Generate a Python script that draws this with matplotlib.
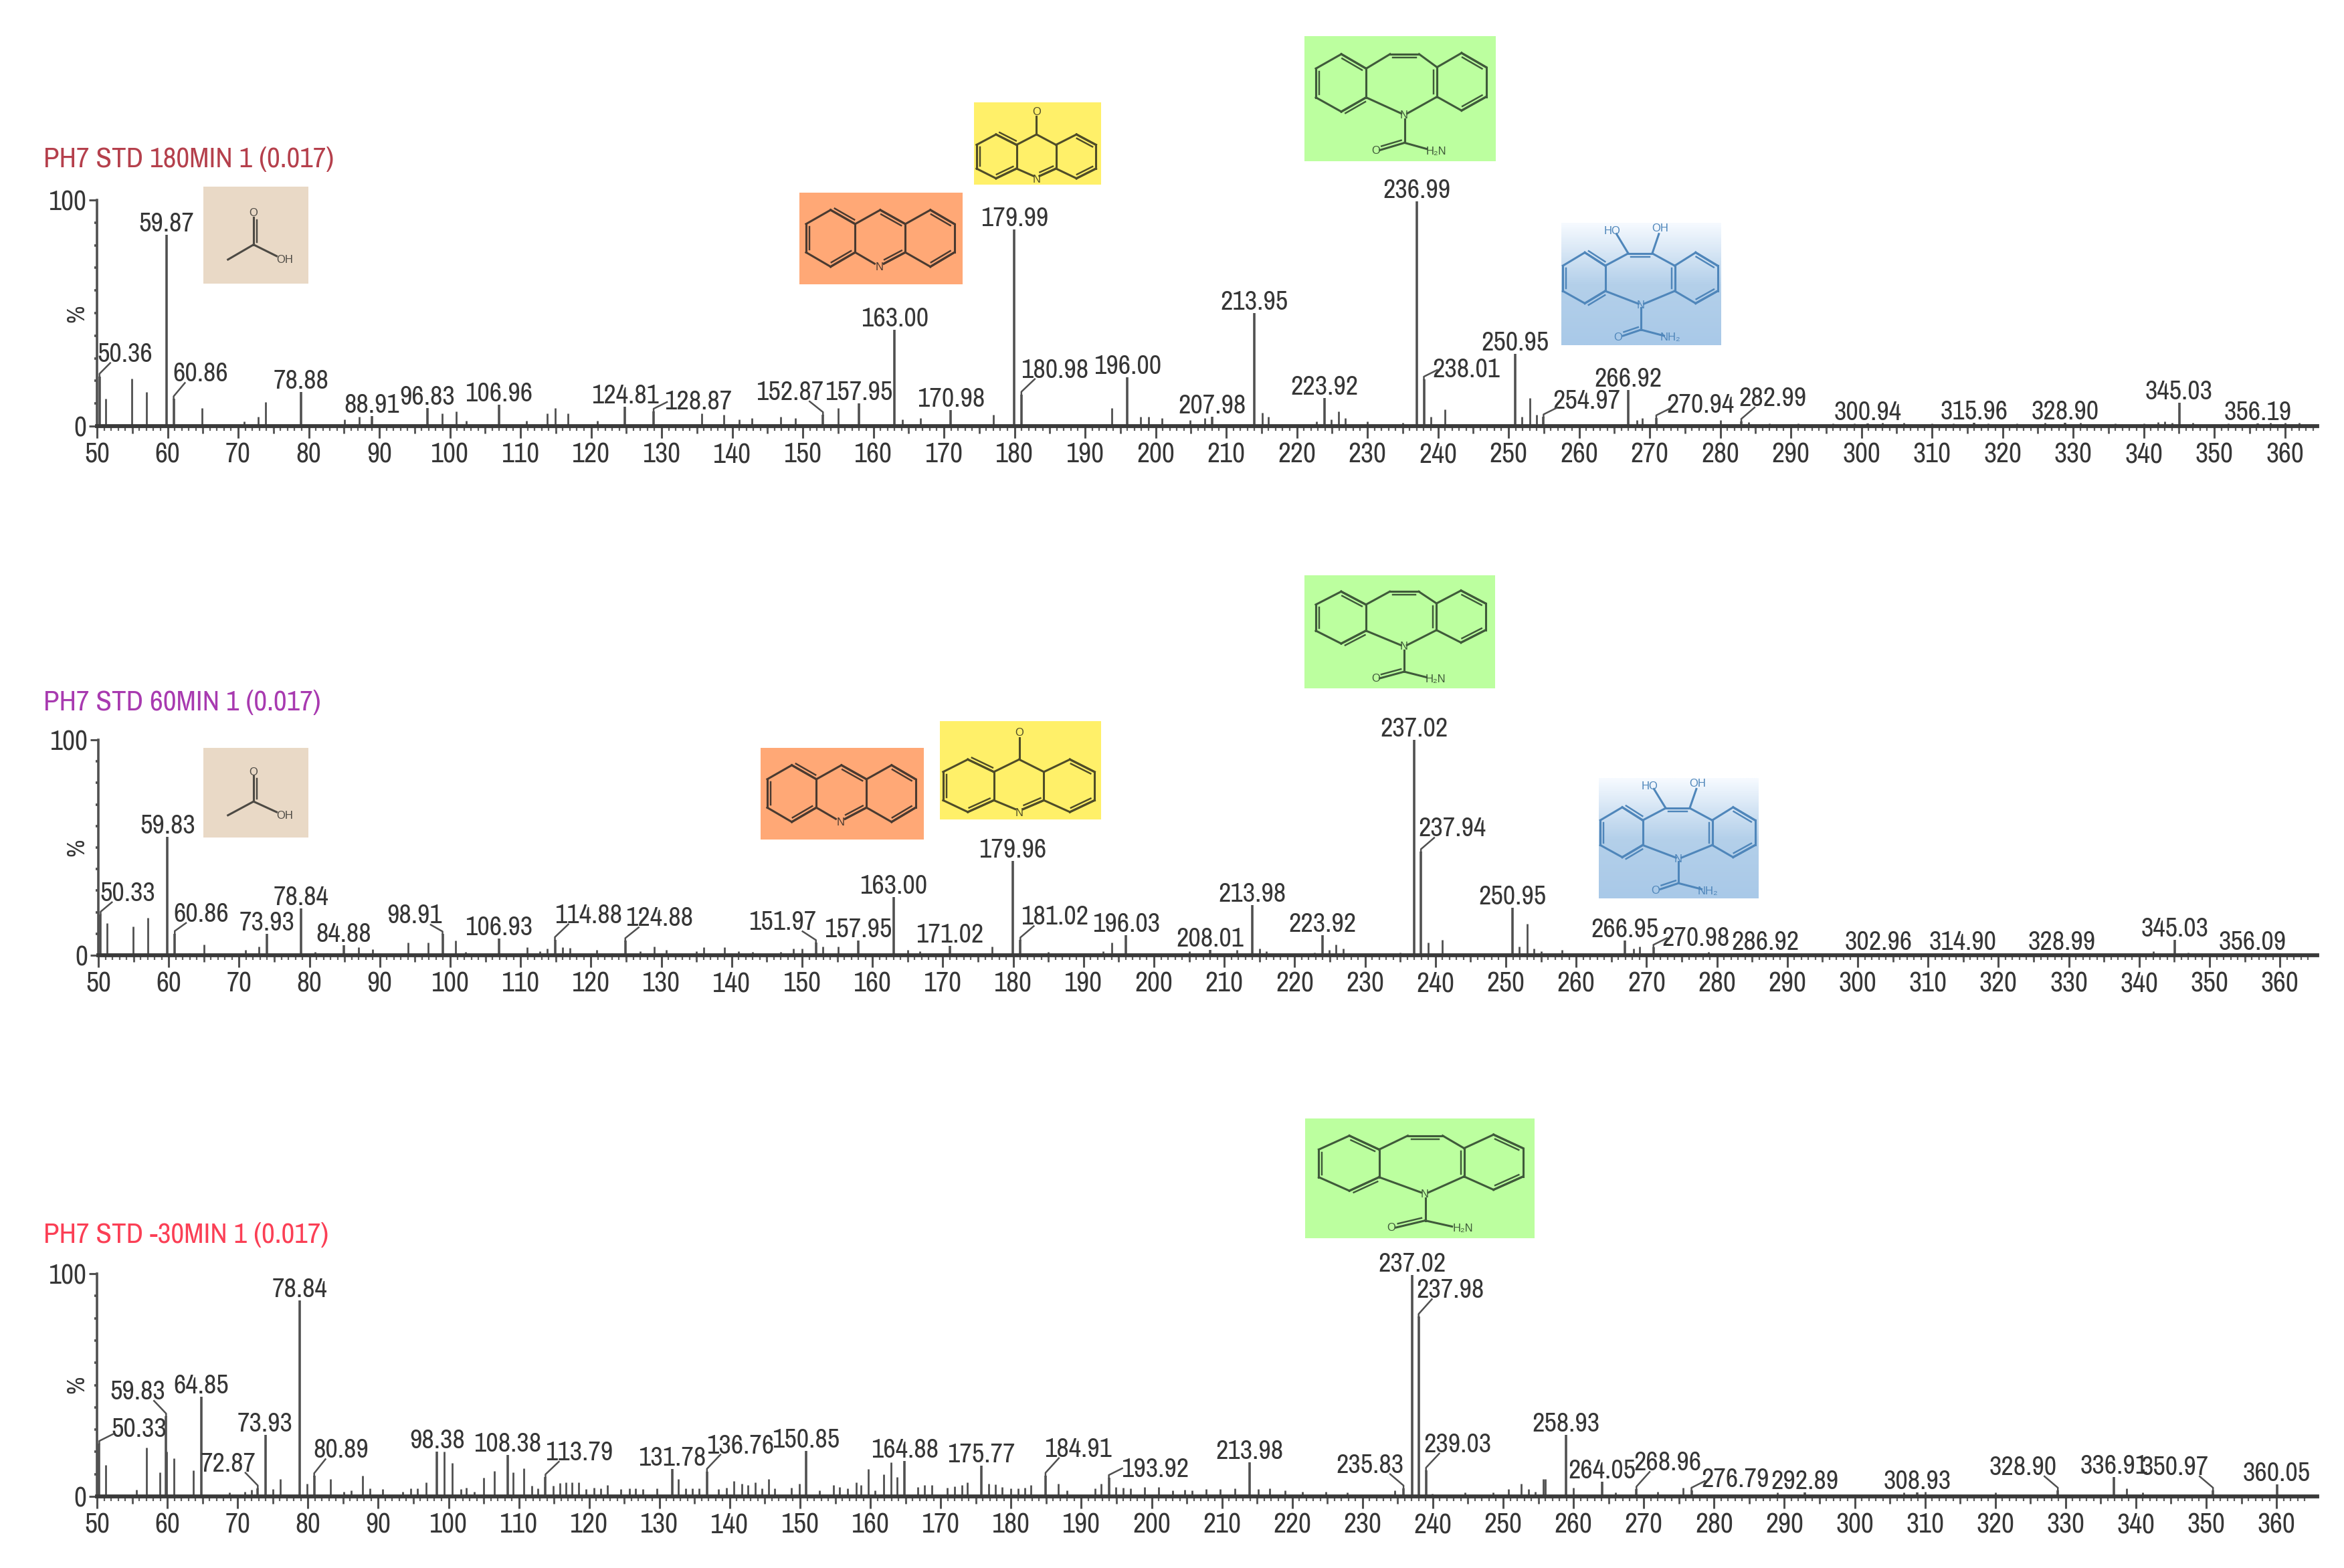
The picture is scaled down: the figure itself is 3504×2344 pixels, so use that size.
from matplotlib import pyplot as plt
from matplotlib.colors import LinearSegmentedColormap
from matplotlib.lines import Line2D
from matplotlib.transforms import IdentityTransform
import numpy as np

W, H = 3504, 2344
FONT = ['Archivo Narrow', 'Liberation Sans']
TEXT_COL = '#363636'
PEAK_COL = '#505050'

titles = ['PH7 STD 180MIN 1 (0.017)', 'PH7 STD 60MIN 1 (0.017)', 'PH7 STD -30MIN 1 (0.017)']
title_colors = ['#b5404c', '#a83ab0', '#fb3f55']
x_ticks = list(range(50, 361, 10))

# labelled peaks: m/z and relative intensity
lab_mz_180 = [50.36, 59.87, 60.86, 78.88, 88.91, 96.83, 106.96, 124.81, 128.87, 152.87, 157.95,
              163.00, 170.98, 179.99, 180.98, 196.00, 207.98, 213.95, 223.92, 236.99, 238.01,
              250.95, 254.97, 266.92, 270.94, 282.99, 300.94, 315.96, 328.90, 345.03, 356.19]
lab_int_180 = [22, 84.6, 12, 15, 4.5, 8, 9.5, 8.5, 6.5, 5, 10,
               42.5, 7, 87, 14, 21.7, 4, 50, 12.4, 99.4, 20.7,
               32, 4, 16, 3.6, 2, 1.2, 1.5, 1.5, 10.5, 1.2]
lab_mz_60 = [50.33, 59.83, 60.86, 73.93, 78.84, 84.88, 98.91, 106.93, 114.88, 124.88, 151.97,
             157.95, 163.00, 171.02, 179.96, 181.02, 196.03, 208.01, 213.98, 223.92, 237.02,
             237.94, 250.95, 266.95, 270.98, 286.92, 302.96, 314.90, 328.99, 345.03, 356.09]
lab_int_60 = [19, 55, 10, 10, 21.6, 4.6, 9.8, 7.7, 7.2, 6.7, 5.8,
              6.8, 27, 4.2, 43.7, 7, 9.4, 2.6, 23.4, 9.4, 100,
              48, 22, 6.7, 3.6, 1, 1, 1, 1, 7.2, 1]
lab_mz_30 = [50.33, 59.83, 64.85, 72.87, 73.93, 78.84, 80.89, 98.38, 108.38, 113.79, 131.78,
             136.76, 150.85, 164.88, 175.77, 184.91, 193.92, 213.98, 235.83, 237.02, 237.98,
             239.03, 258.93, 264.05, 268.96, 276.79, 292.89, 308.93, 328.90, 336.91, 350.97, 360.05]
lab_int_30 = [23.7, 36, 44.7, 3.7, 27.7, 88, 9.2, 20, 18.7, 8.7, 12.2,
              11.2, 20.4, 16, 13.7, 9.4, 8.4, 15.4, 3.7, 99.4, 80.7,
              11.7, 27.7, 6.7, 3.2, 2.7, 1.7, 1.7, 2.7, 8.7, 2.7, 5.4]

# other peaks
mz_180 = [51.2, 54.9, 57, 64.9, 70.9, 72.8, 73.9, 85.1, 87.2, 98.9, 100.9, 102.3, 110.9, 113.8, 114.9,
          116.7, 120.9, 135.7, 138.8, 141, 142.8, 146.9, 149, 155, 164.1, 166.7, 177, 193.8, 197.9,
          199, 200.9, 204.9, 207, 215.1, 216, 222.8, 224.9, 225.9, 226.9, 230, 235, 239, 241, 251.9,
          253, 254, 268.2, 269, 280, 284, 287, 291, 296, 299, 303, 306, 310, 313, 318, 322, 326,
          331, 336, 340, 342, 343, 344, 347, 352, 358, 360, 362]
int_180 = [12, 21, 15, 8, 2, 4, 10.7, 3, 4, 5.5, 6.5, 2.5, 2.5, 5.5, 8,
           5.5, 2.5, 5.5, 5, 3, 3.5, 4, 3.5, 8, 3, 3.5, 5, 8, 4,
           4, 3.5, 2.6, 3.5, 6, 4, 2, 3, 6.6, 3.5, 2, 1.6, 4, 7.5, 4,
           12.4, 5, 2.7, 3.6, 2.7, 1.7, 1.2, 1.3, 1.2, 1.1, 1.5, 1.4, 1.2, 1.3, 1.2, 1.3, 1.4,
           1.5, 1.1, 1.3, 1.8, 2, 1.6, 1.4, 1.3, 1.4, 1.5, 1.4]
mz_60 = [51.2, 54.9, 57, 62.9, 65, 70.9, 72.8, 80.8, 82.5, 87, 89, 94, 96.9, 100.8, 102.2, 110.9, 112.7,
         113.8, 116, 117, 120.8, 123, 127, 129, 130.7, 135, 136, 139, 141, 143, 147, 148.8, 150, 152.9,
         155.1, 165, 166.7, 177, 185, 192.8, 194, 205, 211.8, 215, 216, 222.8, 224.9, 225.9, 226.9,
         235, 239, 241, 251.9, 253, 254, 255, 258, 268.2, 269, 278.8, 284, 290, 342, 347]
int_60 = [15, 13.4, 17.5, 1, 5, 2.5, 4, 1.5, 1, 3.6, 2.8, 5.9, 5.9, 6.7, 1.7, 3.6, 2,
          3, 3.6, 3.4, 2.6, 1, 2, 4, 2.6, 2, 3.6, 3.6, 2, 1.5, 1.5, 3.2, 3.2, 3.9,
          3.9, 2.5, 2, 3.9, 1.6, 2, 6, 2, 2.6, 3.2, 2, 1.3, 2.5, 5, 3.2,
          1.3, 6, 7, 3.9, 14.5, 3, 2, 2.5, 3, 4, 1.5, 1, 1, 2, 1.3]
mz_30 = [51.2, 55.6, 57, 58.9, 60.9, 59.85, 63.7, 68.8, 71, 72, 75, 76.1, 79.9, 83.2, 85.1, 86.2, 87.8, 88.8,
         90.6, 93.5, 94.6, 95.6, 96.8, 99.4, 100.5, 101.8, 102.5, 103.7, 105, 106.5, 109.2, 110.7, 111.8,
         112.7, 114.9, 115.8, 116.7, 117.6, 118.5, 119.6, 120.7, 121.6, 122.6, 124.5, 125.7, 126.6, 127.6,
         129.6, 132.7, 133.7, 134.7, 135.6, 138.4, 139.5, 140.6, 141.7, 142.6, 143.6, 144.6, 145.5, 146.4,
         148.8, 149.9, 152.8, 154.8, 155.6, 156.8, 158, 158.7, 159.7, 160.7, 161.9, 162.9, 163.8, 166.7, 167.7,
         168.7, 170.9, 172, 173, 173.8, 176.8, 177.8, 178.7, 180, 181, 182, 182.8, 186.7, 188, 192, 192.8,
         194.9, 196, 197, 199, 201, 203, 204.7, 205.8, 207.8, 209.8, 211.8, 215.2, 216.8, 219, 221.5, 224.8,
         227.8, 234.6, 239.9, 244.6, 248.6, 250.8, 252.6, 253.6, 254.6, 255.7, 256, 260, 266, 272, 275.6, 289,
         307, 310, 320, 338.7, 341]
int_30 = [14.2, 3, 22, 10.7, 17, 20, 11.7, 1.7, 2, 3, 3.2, 7.7, 5.7, 7.7, 2.2, 2.7, 9.2, 3.7,
          3.2, 2.2, 3.7, 3.7, 6.2, 20, 15, 3.2, 4, 2.2, 8.4, 11.4, 10.7, 12.7, 4.7,
          3.7, 4.7, 6, 6.2, 6.2, 6.2, 3.2, 4, 3.7, 5, 3.2, 3.7, 3.7, 3.2,
          3.7, 7.7, 3.7, 3.7, 3.7, 3.4, 4, 7, 5.7, 5, 6.2, 3.7, 7.7, 3.7,
          4, 5.7, 2.7, 5, 4.2, 3.7, 6.2, 5.2, 12.4, 2.7, 10, 15.2, 8.7, 4.2, 5,
          5, 4, 4.4, 5, 6.2, 5.7, 5.4, 4.2, 3.7, 3.7, 4, 5, 5.7, 2.7, 3.7, 5.7,
          4.2, 4, 3.7, 4.2, 4.2, 2.7, 3, 2.7, 3.2, 3.4, 3.7, 3.2, 3.7, 2.7, 2.2, 2.2,
          1.7, 2.7, 1.2, 1.7, 1.7, 3.2, 5.7, 3.2, 2.2, 7.7, 7.7, 4, 1.7, 2.2, 4, 1.7,
          1.7, 2.2, 1.7, 3.7, 1.7]

# where a label leaves its peak, in pixels: dx, dy
offsets_180 = {'50.36': (38, 22), '60.86': (40, 26), '128.87': (67, 3), '152.87': (-50, 22),
               '180.98': (50, 25), '238.01': (63, 3), '254.97': (65, 12), '270.94': (66, 8),
               '282.99': (47, 23)}
offsets_60 = {'50.33': (40, 20), '60.86': (40, 18), '98.91': (-42, 16), '114.88': (50, 25),
              '124.88': (51, 22), '151.97': (-50, 19), '181.02': (51, 23), '237.94': (47, 23),
              '270.98': (63, 2)}
offsets_30 = {'50.33': (59, 10), '59.83': (-43, 25), '72.87': (-44, 25), '80.89': (40, 27),
              '113.79': (50, 25), '136.76': (50, 27), '184.91': (49, 28), '193.92': (69, 1),
              '235.83': (-50, 23), '237.98': (47, 28), '239.03': (47, 27), '268.96': (47, 28),
              '276.79': (65, 5), '328.90': (-52, 23), '350.97': (-57, 23)}

# left, baseline, top, px per m/z unit
frames = [(145, 637, 299, 10.55), (147, 1428, 1106, 10.52), (145, 2237, 1904, 10.51)]
title_y = [250, 1062, 1858]
percent_y = [469, 1267, 2070]


# molecules, drawn in fractions of their coloured box
def ring(c):
    return [(c[i], c[(i + 1) % len(c)]) for i in range(len(c))]


def norm(segs, x0, y0, w, h):
    return [(((a[0] - x0) / w, (a[1] - y0) / h), ((b[0] - x0) / w, (b[1] - y0) / h)) for a, b in segs]


def norm_txt(txt, x0, y0, w, h):
    return [((x - x0) / w, (y - y0) / h, s) for x, y, s in txt]


cbz_l = [(257, 153), (368, 218), (368, 348), (257, 412), (143, 348), (143, 218)]
cbz_r = [(685, 212), (795, 148), (905, 212), (905, 345), (795, 407), (685, 345)]
cbz_box = (92, 72, 856, 563)
CBZ = dict(
    single=norm(ring(cbz_l) + ring(cbz_r) + [((368, 218), (475, 153)), ((605, 153), (685, 212)),
                                             ((368, 348), (525, 420)), ((685, 345), (552, 420)),
                                             ((540, 445), (540, 552)), ((540, 552), (640, 580))], *cbz_box),
    double=norm([((475, 153), (605, 153)), ((257, 153), (368, 218)), ((143, 218), (143, 348)),
                 ((257, 412), (368, 348)), ((795, 148), (905, 212)), ((905, 345), (795, 407)),
                 ((685, 212), (685, 345)), ((540, 552), (430, 585))], *cbz_box),
    text=norm_txt([(538, 428, 'N'), (412, 587, 'O'), (682, 590, 'H₂N')], *cbz_box))

dio_l = [(90, 233), (130, 292), (130, 405), (90, 460), (47, 405), (47, 292)]
dio_r = [(307, 233), (350, 292), (350, 405), (307, 460), (266, 405), (266, 292)]
dio_box = (44, 100, 313, 547)
DIOL = dict(
    single=norm(ring(dio_l) + ring(dio_r) + [((130, 292), (175, 237)), ((222, 237), (266, 292)),
                                             ((130, 405), (195, 462)), ((266, 405), (206, 462)),
                                             ((200, 480), (200, 578)), ((200, 578), (245, 605)),
                                             ((175, 237), (152, 150)), ((222, 237), (235, 150))], *dio_box),
    double=norm([((175, 237), (222, 237)), ((90, 233), (130, 292)), ((47, 292), (47, 405)),
                 ((90, 460), (130, 405)), ((307, 233), (350, 292)), ((350, 405), (307, 460)),
                 ((266, 292), (266, 405)), ((200, 578), (165, 605))], *dio_box),
    text=norm_txt([(200, 468, 'N'), (155, 612, 'O'), (258, 614, 'NH₂'), (143, 138, 'HO'), (238, 125, 'OH')], *dio_box))

acr_box = (59, 600, 319, 307)
ACRIDINE = dict(
    single=norm(ring([(120, 658), (168, 705), (168, 800), (120, 848), (72, 800), (72, 705)])
                + ring([(315, 658), (362, 705), (362, 800), (315, 848), (266, 800), (266, 705)])
                + [((168, 705), (217, 658)), ((217, 658), (266, 705)), ((266, 800), (224, 838)),
                   ((168, 800), (206, 838))], *acr_box),
    double=norm([((120, 658), (168, 705)), ((72, 705), (72, 800)), ((120, 848), (168, 800)),
                 ((217, 658), (266, 705)), ((315, 658), (362, 705)), ((362, 800), (315, 848)),
                 ((266, 800), (224, 838))], *acr_box),
    text=norm_txt([(215, 850, 'N')], *acr_box))

acd_box = (400, 297, 248, 277)
ACRIDONE = dict(
    single=norm(ring([(443, 405), (483, 440), (483, 520), (443, 553), (405, 520), (405, 440)])
                + ring([(600, 405), (638, 440), (638, 520), (600, 553), (560, 520), (560, 440)])
                + [((483, 440), (522, 405)), ((522, 405), (560, 440)), ((483, 520), (516, 545)),
                   ((560, 520), (528, 545)), ((522, 345), (522, 405))], *acd_box),
    double=norm([((443, 405), (483, 440)), ((405, 440), (405, 520)), ((443, 553), (483, 520)),
                 ((600, 405), (638, 440)), ((638, 520), (600, 553)), ((560, 520), (528, 545))], *acd_box),
    text=norm_txt([(522, 330, 'O'), (522, 556, 'N')], *acd_box))

ace_box = (397, 287, 205, 423)
ACID = dict(
    single=norm([((495, 540), (445, 605)), ((495, 540), (540, 590)), ((495, 420), (495, 540))], *ace_box),
    double=norm([((495, 420), (495, 540))], *ace_box),
    text=norm_txt([(495, 402, 'O'), (556, 606, 'OH')], *ace_box))

TAN, ORANGE, YELLOW, GREEN = '#e9d9c6', '#ffa876', '#fff069', '#bcff9f'
boxes = [
    (304, 279, 461, 424, TAN, ACID, '#4d4a44'),
    (1195, 288, 1439, 425, ORANGE, ACRIDINE, '#4a3a30'),
    (1456, 153, 1646, 276, YELLOW, ACRIDONE, '#4f4c28'),
    (1950, 54, 2236, 241, GREEN, CBZ, '#3f5a3a'),
    (304, 1118, 461, 1252, TAN, ACID, '#4d4a44'),
    (1137, 1118, 1381, 1255, ORANGE, ACRIDINE, '#4a3a30'),
    (1405, 1078, 1646, 1225, YELLOW, ACRIDONE, '#4f4c28'),
    (1950, 860, 2235, 1029, GREEN, CBZ, '#3f5a3a'),
    (1951, 1672, 2294, 1851, GREEN, CBZ, '#3f5a3a'),
]
blue_boxes = [(2334, 333, 2573, 516), (2390, 1163, 2629, 1343)]


def draw_molecule(ax, box, mol, col):
    x0, y0, x1, y1 = box
    w, h = x1 - x0, y1 - y0
    lw = 2.2
    for a, b in mol['single']:
        ax.plot([x0 + a[0] * w, x0 + b[0] * w], [y0 + a[1] * h, y0 + b[1] * h], color=col, lw=lw)
    for a, b in mol['double']:
        # second stroke, pulled toward the middle of the box
        ax_, ay_ = x0 + a[0] * w, y0 + a[1] * h
        bx_, by_ = x0 + b[0] * w, y0 + b[1] * h
        ax.plot([ax_, bx_], [ay_, by_], color=col, lw=lw)
        dx, dy = bx_ - ax_, by_ - ay_
        ln = np.hypot(dx, dy)
        nx, ny = -dy / ln * 5, dx / ln * 5
        mx, my = (ax_ + bx_) / 2, (ay_ + by_) / 2
        cx, cy = x0 + w / 2, y0 + h * 0.45
        if (cx - mx) * nx + (cy - my) * ny < 0:
            nx, ny = -nx, -ny
        ax.plot([ax_ + nx + dx * .1, bx_ + nx - dx * .1], [ay_ + ny + dy * .1, by_ + ny - dy * .1], color=col, lw=lw * .8)
    for fx, fy, s in mol['text']:
        ax.text(x0 + fx * w, y0 + fy * h, s, color=col, fontsize=12, ha='center', va='center',
                family=['Liberation Sans', 'DejaVu Sans'])


def leader(fig, ax, mz, val, dx, dy):
    px, py = ax.transData.transform((mz, val))
    sign = 1 if dx > 0 else -1
    ex = px + sign * min(abs(dx) * 0.42, 20)
    ey = py + max(dy - 2, 14)
    fig.add_artist(Line2D([px, px, ex], [py, py + 4, ey], transform=IdentityTransform(),
                          color=PEAK_COL, lw=1.8))


def draw_panel(fig, idx, lab_mz, lab_int, mz, inten, offsets):
    left, base, top, k = frames[idx]
    right = 3464
    ax = fig.add_axes([left / W, 1 - base / H, (right - left) / W, (base - top) / H])
    ax.patch.set_alpha(0)
    ax.set_xlim(50, 50 + (right - left) / k)
    ax.set_ylim(0, 100)
    ax.vlines(mz, 0, inten, color=PEAK_COL, lw=2.0, zorder=2)
    ax.vlines(lab_mz, 0, lab_int, color=PEAK_COL, lw=2.6, zorder=2)

    for s in ['top', 'right']:
        ax.spines[s].set_visible(False)
    ax.spines['bottom'].set_linewidth(4.2)
    ax.spines['bottom'].set_color('#3a3a3a')
    ax.spines['left'].set_linewidth(2.6)
    ax.spines['left'].set_color('#505050')

    ax.set_xticks(x_ticks)
    ax.set_xticks(np.arange(50, 365), minor=True)
    ax.tick_params(axis='x', which='major', length=13, width=2.2, color='#505050', pad=4, labelsize=30, labelcolor=TEXT_COL)
    ax.tick_params(axis='x', which='minor', length=5, width=1.6, color='#606060')
    ax.vlines(np.arange(55, 365, 10), -3.2, 0, color='#505050', lw=2, clip_on=False, zorder=1)
    ax.set_yticks([0, 100])
    ax.set_yticks([10, 20, 30, 40, 50, 60, 70, 80, 90], minor=True)
    ax.tick_params(axis='y', which='major', length=9, width=2.2, color='#505050', pad=2, labelsize=30, labelcolor=TEXT_COL)
    ax.tick_params(axis='y', which='minor', length=3, width=2.6, color='#505050')
    for t in ax.get_xticklabels() + ax.get_yticklabels():
        t.set_family(FONT)

    for m, v in zip(lab_mz, lab_int):
        name = f'{m:.2f}'
        dx, dy = offsets.get(name, (0, 5))
        ax.annotate(name, xy=(m, v), xytext=(dx, dy), textcoords='offset pixels', ha='center', va='baseline',
                    fontsize=29, color=TEXT_COL, family=FONT, annotation_clip=False, zorder=4)
        if name in offsets:
            leader(fig, ax, m, v, dx, dy)
    return ax


fig = plt.figure(figsize=(W / 100, H / 100), dpi=100, facecolor='white')

under = fig.add_axes([0, 0, 1, 1])
for x0, y0, x1, y1, col, mol, line in boxes:
    under.add_patch(plt.Rectangle((x0, y0), x1 - x0, y1 - y0, fc=col, ec='none'))
    draw_molecule(under, (x0, y0, x1, y1), mol, line)
blues = LinearSegmentedColormap.from_list('b', ['#f6faff', '#b4d0ea', '#a9c9e8'])
for x0, y0, x1, y1 in blue_boxes:
    under.imshow(np.linspace(0, 1, 64).reshape(-1, 1), cmap=blues, extent=(x0, x1, y1, y0), aspect='auto', zorder=0)
    draw_molecule(under, (x0, y0, x1, y1), DIOL, '#4f86ba')
under.set_xlim(0, W)
under.set_ylim(H, 0)
under.axis('off')

for i in range(3):
    fig.text(65 / W, 1 - title_y[i] / H, titles[i], color=title_colors[i], fontsize=31, family=FONT, va='baseline')
    fig.text(115 / W, 1 - percent_y[i] / H, '%', color=TEXT_COL, fontsize=26, rotation=90, family=FONT, ha='center', va='center')

draw_panel(fig, 0, lab_mz_180, lab_int_180, mz_180, int_180, offsets_180)
draw_panel(fig, 1, lab_mz_60, lab_int_60, mz_60, int_60, offsets_60)
draw_panel(fig, 2, lab_mz_30, lab_int_30, mz_30, int_30, offsets_30)

fig.savefig('out.png', dpi=100)
